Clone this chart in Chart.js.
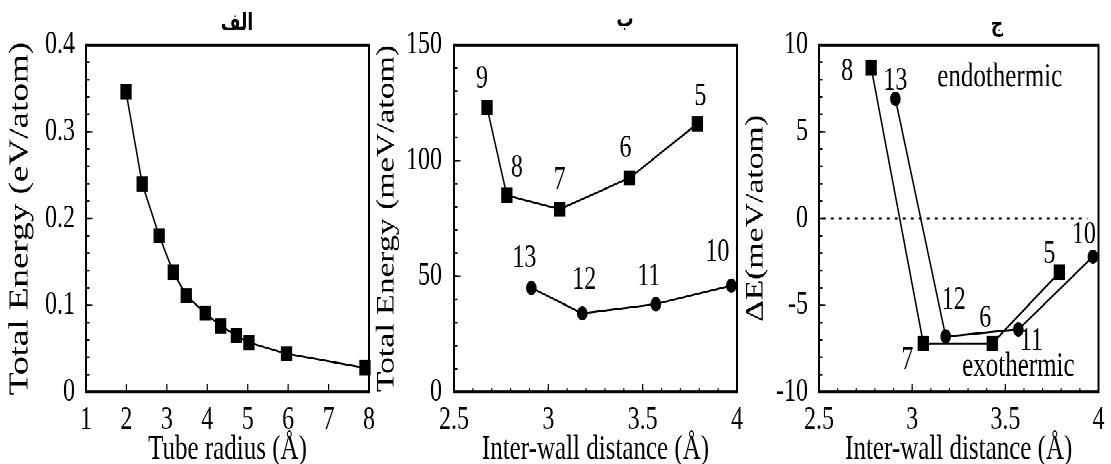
<!DOCTYPE html>
<html>
<head>
<meta charset="utf-8">
<script src="https://cdn.jsdelivr.net/npm/chart.js@4.4.1/dist/chart.umd.min.js"></script>
<style>
  html, body { margin: 0; padding: 0; background: #fff; width: 1111px; height: 464px; overflow: hidden; }
  #stage { position: absolute; left: 0; top: 0; width: 1111px; height: 344px; transform-origin: 0 0; transform: scaleY(1.3488); }
  #stage canvas { position: absolute; left: 0; top: 0; }
</style>
</head>
<body>
<div id="stage">
  <canvas id="panelA" width="1111" height="344"></canvas>
  <canvas id="panelB" width="1111" height="344"></canvas>
  <canvas id="panelC" width="1111" height="344"></canvas>
</div>
<script>
// ---- (الف) total energy vs tube radius ----
const tubeRadius = [1.99, 2.39, 2.81, 3.16, 3.48, 3.95, 4.33, 4.72, 5.03, 5.96, 7.90];
const tubeEnergy = [0.346, 0.240, 0.180, 0.138, 0.111, 0.091, 0.076, 0.065, 0.057, 0.044, 0.028];
const radiusTicks = [1, 2, 3, 4, 5, 6, 7, 8];
const energyTicksA = [0, 0.1, 0.2, 0.3, 0.4];

// ---- (ب) total energy vs inter-wall distance ----
const squareTubes = ['9', '8', '7', '6', '5'];
const squareDistance = [2.675, 2.78, 3.06, 3.43, 3.79];
const squareEnergy = [123, 85, 79, 92.5, 116];
const roundTubes = ['13', '12', '11', '10'];
const roundDistance = [2.91, 3.18, 3.57, 3.97];
const roundEnergy = [45, 34, 38, 46];
const distanceTicks = [2.5, 3, 3.5, 4];
const energyTicksB = [0, 50, 100, 150];

// ---- (ج) energy difference vs inter-wall distance ----
const squareTubesC = ['8', '7', '6', '5'];
const squareDistanceC = [2.78, 3.06, 3.43, 3.79];
const squareDeltaE = [8.7, -7.2, -7.2, -3.1];
const roundTubesC = ['13', '12', '11', '10'];
const roundDistanceC = [2.91, 3.18, 3.57, 3.97];
const roundDeltaE = [6.9, -6.8, -6.4, -2.2];
const zeroLineX = [2.52, 3.94];
const zeroLineY = [0, 0];
const deltaTicks = [-10, -5, 0, 5, 10];

const headings = ['الف', 'ب', 'ج'];

const SERIF = "'Liberation Serif', 'Times New Roman', serif";
const W = 1111, H = 344, PLOT_TOP = 33.4, PLOT_BOTTOM = 290.6;

const pts = (xs, ys) => xs.map((x, i) => ({ x, y: ys[i] }));

// frame box, inward tick marks, number tags and free text
function overlay(cfg) {
  return {
    id: 'overlay',
    afterDraw(chart) {
      const { ctx, chartArea: a, scales: { x, y } } = chart;
      ctx.save();
      ctx.strokeStyle = '#000';
      ctx.lineWidth = 1.2;
      const mark = (scale, step, len) => {
        const n = Math.round((scale.max - scale.min) / step);
        for (let i = 0; i <= n; i++) {
          const p = scale.getPixelForValue(scale.min + i * step);
          ctx.beginPath();
          if (scale.isHorizontal()) { ctx.moveTo(p, a.bottom); ctx.lineTo(p, a.bottom - len); }
          else { ctx.moveTo(a.left, p); ctx.lineTo(a.left + len, p); }
          ctx.stroke();
        }
      };
      if (cfg.xMinor) mark(x, cfg.xMinor, 2.5);
      mark(x, cfg.xMajor, 6);
      if (cfg.yMinor) mark(y, cfg.yMinor, 3.5);
      mark(y, cfg.yMajor, 6.5);
      ctx.lineWidth = 2;
      ctx.strokeRect(a.left, a.top, a.right - a.left, a.bottom - a.top);

      ctx.fillStyle = '#000';
      ctx.textAlign = 'center';
      ctx.textBaseline = 'middle';
      ctx.font = '24px ' + SERIF;
      (cfg.tags || []).forEach(t => {
        const meta = chart.getDatasetMeta(t.dataset);
        meta.data.forEach((el, i) => {
          const [dx, dy] = t.offsets[i];
          ctx.fillText(t.labels[i], el.x + dx, el.y + dy);
        });
      });
      ctx.font = '25px ' + SERIF;
      (cfg.notes || []).forEach(n => {
        ctx.fillText(n.text, x.getPixelForValue(n.x), y.getPixelForValue(n.y));
      });
      ctx.font = "bold 17px 'DejaVu Sans', sans-serif";
      ctx.fillText(cfg.heading.text, cfg.heading.x, cfg.heading.y);
      ctx.restore();
    }
  };
}

function panel(id, p) {
  return new Chart(document.getElementById(id), {
    type: 'scatter',
    data: { datasets: p.datasets },
    options: {
      responsive: false,
      animation: false,
      devicePixelRatio: 2,
      layout: { padding: { left: p.left, right: W - p.right, top: PLOT_TOP, bottom: 0 } },
      plugins: { legend: { display: false }, tooltip: { enabled: false } },
      scales: {
        x: {
          type: 'linear', min: p.xMin, max: p.xMax,
          afterBuildTicks: s => { s.ticks = p.xTicks.map(v => ({ value: v })); },
          afterFit: s => { s.height = H - PLOT_BOTTOM; },
          grid: { display: false, drawTicks: false },
          border: { display: false },
          ticks: { autoSkip: false, maxRotation: 0, padding: 6.5, color: '#000',
                   font: { family: SERIF, size: 24 }, callback: v => String(v) },
          title: { display: true, text: p.xTitle, color: '#000', padding: { top: 0, bottom: 0 },
                   font: { family: SERIF, size: 25, lineHeight: 0.85 } }
        },
        y: {
          type: 'linear', min: p.yMin, max: p.yMax,
          afterBuildTicks: s => { s.ticks = p.yTicks.map(v => ({ value: v })); },
          afterFit: s => { s.width = p.plotLeft - p.left; },
          grid: { display: false, drawTicks: false },
          border: { display: false },
          ticks: { autoSkip: false, padding: p.yPad, color: '#000',
                   font: { family: SERIF, size: 24 }, callback: v => String(v) },
          title: { display: true, text: p.yTitle, color: '#000', padding: { top: p.yTitlePad, bottom: 0 },
                   font: { family: SERIF, size: p.yTitleSize, lineHeight: 1 } }
        }
      }
    },
    plugins: [overlay(p.overlay)]
  });
}

const lineStyle = { showLine: true, borderColor: '#000', backgroundColor: '#000', borderWidth: 1.5,
                    pointBorderWidth: 0, clip: false };
const square = { pointStyle: 'rect', pointRadius: 8 };
const round = { pointStyle: 'circle', pointRadius: 5.3 };

panel('panelA', {
  left: 0, plotLeft: 86, right: 369, yPad: 11, yTitlePad: 6.5, yTitleSize: 27.5,
  xMin: 1, xMax: 8, yMin: 0, yMax: 0.4, xTicks: radiusTicks, yTicks: energyTicksA,
  xTitle: 'Tube radius (Å)', yTitle: 'Total Energy (eV/atom)',
  datasets: [Object.assign({ data: pts(tubeRadius, tubeEnergy) }, lineStyle, square)],
  overlay: { xMajor: 1, yMajor: 0.1, yMinor: 0.02, heading: { text: headings[0], x: 237, y: 17.5 } }
});

panel('panelB', {
  left: 374, plotLeft: 454, right: 737, yPad: 12, yTitlePad: 0.5, yTitleSize: 25,
  xMin: 2.5, xMax: 4, yMin: 0, yMax: 150, xTicks: distanceTicks, yTicks: energyTicksB,
  xTitle: 'Inter-wall distance (Å)', yTitle: 'Total Energy (meV/atom)',
  datasets: [
    Object.assign({ data: pts(squareDistance, squareEnergy) }, lineStyle, square),
    Object.assign({ data: pts(roundDistance, roundEnergy) }, lineStyle, round)
  ],
  overlay: {
    xMajor: 0.5, xMinor: 0.1, yMajor: 50, yMinor: 10,
    heading: { text: headings[1], x: 625, y: 15 },
    tags: [
      { dataset: 0, labels: squareTubes, offsets: [[-5, -21], [10, -20], [0, -21.5], [-4, -22], [3, -20]] },
      { dataset: 1, labels: roundTubes, offsets: [[-7, -21.5], [2, -24.5], [-7, -20], [-14, -24.5]] }
    ]
  }
});

panel('panelC', {
  left: 743, plotLeft: 819, right: 1102, yPad: 11, yTitlePad: 0.5, yTitleSize: 25,
  xMin: 2.5, xMax: 4, yMin: -10, yMax: 10, xTicks: distanceTicks, yTicks: deltaTicks,
  xTitle: 'Inter-wall distance (Å)', yTitle: 'ΔE(meV/atom)',
  datasets: [
    { data: pts(zeroLineX, zeroLineY), showLine: true, borderColor: '#000', borderWidth: 1.6,
      borderDash: [3, 5], pointRadius: 0 },
    Object.assign({ data: pts(squareDistanceC, squareDeltaE) }, lineStyle, square),
    Object.assign({ data: pts(roundDistanceC, roundDeltaE) }, lineStyle, round)
  ],
  overlay: {
    xMajor: 0.5, xMinor: 0.1, yMajor: 5, yMinor: 1,
    heading: { text: headings[2], x: 997, y: 19 },
    tags: [
      { dataset: 1, labels: squareTubesC, offsets: [[-24, 3], [-16, 12.6], [-7, -18.5], [-10, -13.3]] },
      { dataset: 2, labels: roundTubesC, offsets: [[0, -13], [8, -26.7], [13, 9], [-9, -16.3]] }
    ],
    notes: [
      { text: 'endothermic', x: 3.47, y: 8.15 },
      { text: 'exothermic', x: 3.57, y: -8.56 }
    ]
  }
});
</script>
</body>
</html>
